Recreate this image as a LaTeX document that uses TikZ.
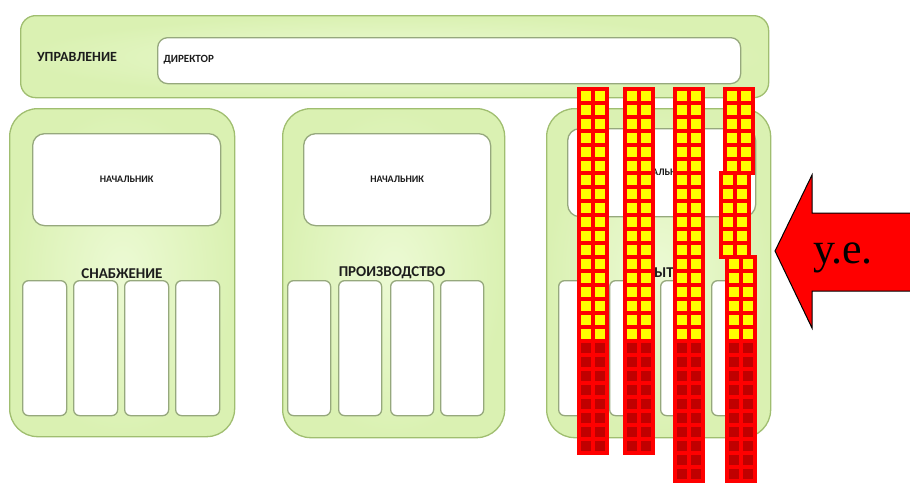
\documentclass[tikz,border=0pt]{standalone}
\usepackage{fontspec}
\setmainfont{Liberation Serif}
\setsansfont{Carlito}
\usetikzlibrary{positioning}

\definecolor{pin}{RGB}{236,250,212}
\definecolor{pout}{RGB}{218,241,178}
\definecolor{pline}{RGB}{160,190,112}
\definecolor{bline}{RGB}{150,168,125}
\definecolor{txt}{RGB}{28,28,28}
\definecolor{winyel}{RGB}{255,255,0}
\definecolor{windark}{RGB}{192,0,0}

\tikzset{
  panel/.style={draw=pline, line width=1.3pt, rounded corners=28pt, inner color=pin, outer color=pout,
    anchor=north west, inner sep=0pt},
  box/.style={draw=bline, fill=white, line width=1.3pt, rounded corners=12pt, anchor=north west, inner sep=0pt},
  slot/.style={box, rounded corners=6pt, minimum width=44pt, minimum height=135pt},
  head/.style={box, minimum width=188pt, minimum height=92pt},
  lbl/.style={font=\sffamily\bfseries\fontsize{15}{15}\selectfont, text=txt},
  small/.style={font=\sffamily\bfseries\fontsize{10}{10}\selectfont, text=txt}
}

% x, y of the top, first row, last row
\newcommand{\tower}[4]{%
  \fill[red] (#1,{87+14*(#3-1)}) rectangle ({#1+32},{91+14*#4});
  \foreach \r in {#3,...,#4}{%
    \ifnum\r>18 \def\wc{windark}\else\def\wc{winyel}\fi
    \fill[\wc] ({#1+4},{91+14*(\r-1)}) rectangle ++(10,10);
    \fill[\wc] ({#1+18},{91+14*(\r-1)}) rectangle ++(10,10);
  }%
}

\begin{document}
\begin{tikzpicture}[x=1pt,y=-1pt]
    \useasboundingbox (0,0) rectangle (910,483);
    \clip (0,0) rectangle (910,483);

    \node[panel, rounded corners=15pt, minimum width=748pt, minimum height=82pt] (top) at (20,15) {};
    \node[box, rounded corners=10pt, minimum width=583pt, minimum height=46pt] (dir) at (157,37) {};
    \node[lbl, font=\sffamily\bfseries\fontsize{14}{14}\selectfont] (upr) at (77,57) {УПРАВЛЕНИЕ};
    \node[small, font=\sffamily\bfseries\fontsize{11}{11}\selectfont, anchor=west] (dirt) at (160,60) {ДИРЕКТОР};

    \node[panel, minimum width=225pt, minimum height=328pt] (p1) at (9,108) {};
    \node[head] (h1) at (32,133) {};
    \node[small] at (h1.center) {НАЧАЛЬНИК};
    \node[lbl] (snab) at (122,274) {СНАБЖЕНИЕ};
    \foreach \i/\x in {1/22,2/73,3/124,4/175}
        \node[slot] (a\i) at (\x,280) {};

    \node[panel, minimum width=222pt, minimum height=329pt] (p2) at (282,108) {};
    \node[head, minimum width=187pt] (h2) at (303,133) {};
    \node[small] at (h2.center) {НАЧАЛЬНИК};
    \node[lbl] (proiz) at (392,273) {ПРОИЗВОДСТВО};
    \foreach \i/\x in {1/287,2/338,3/390,4/440}
        \node[slot, minimum width=43pt] (b\i) at (\x,280) {};

    \node[panel, minimum width=224pt, minimum height=329pt] (p3) at (546,108) {};
    \node[head, minimum height=88pt] (h3) at (567,128) {};
    \node[small] at (h3.center) {НАЧАЛЬНИК};
    \node[lbl] (sbyt) at (656,273) {СБЫТ};
    \foreach \i/\x in {1/558,2/609,3/660,4/711}
        \node[slot, minimum width=43pt] (c\i) at (\x,280) {};

    \tower{577}{87}{1}{26}
    \tower{623}{87}{1}{26}
    \tower{673}{87}{1}{28}
    \tower{723}{87}{1}{6}
    \tower{719}{87}{7}{12}
    \tower{725}{87}{13}{28}

    \filldraw[fill=red, draw=black, line width=1pt] (775,251) -- (812,175) -- (812,213) -- (915,213)
        -- (915,291) -- (812,291) -- (812,328) -- cycle;
    \node[font=\fontsize{44}{44}\selectfont, anchor=base] (ue) at (843,263) {у.е.};
\end{tikzpicture}
\end{document}
